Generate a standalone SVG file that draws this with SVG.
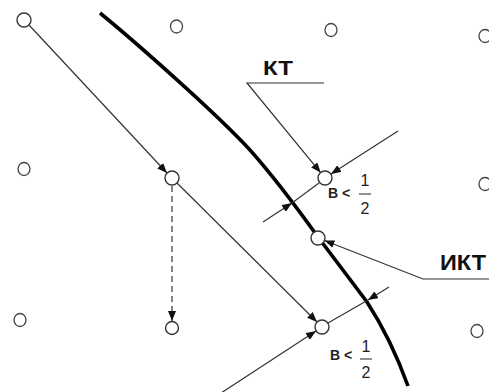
<svg xmlns="http://www.w3.org/2000/svg" width="489" height="392" viewBox="0 0 489 392">
<style>
.n{fill:#fff;stroke:#333;stroke-width:1.4}
.o{fill:none;stroke:#444;stroke-width:1.3}
.c{fill:none;stroke:#333;stroke-width:1.2}
.d{fill:none;stroke:#333;stroke-width:1.2;stroke-dasharray:6,4}
.lb{font-family:"Liberation Sans",Arial,sans-serif;font-weight:bold;fill:#111}
.fr{font-family:"Liberation Sans",Arial,sans-serif;font-size:16px;fill:#222;text-anchor:middle}
.bs{font-family:"Liberation Sans",Arial,sans-serif;font-weight:bold;font-size:14px;fill:#222}
</style>
<defs>
<marker id="ah" markerUnits="userSpaceOnUse" markerWidth="10" markerHeight="8" refX="10" refY="4" orient="auto">
<path d="M0,0 L10,4 L0,8 z" fill="#111"/>
</marker>
</defs>
<rect width="489" height="392" fill="#fff"/>
<path id="boundary" d="M100,13 C133,40 215,112 250,150 C275,178 300,212 318,237 C340,266 358,290 367,302 C380,322 395,350 408,386" fill="none" stroke="#000" stroke-width="3.6"/>
<g id="connectors">
<line class="c" x1="29" y1="25" x2="167" y2="173" marker-end="url(#ah)"/>
<line class="d" x1="172" y1="186" x2="172" y2="321" marker-end="url(#ah)"/>
<line class="c" x1="177" y1="183" x2="317" y2="322" marker-end="url(#ah)"/>
<line class="c" x1="218" y1="395" x2="316" y2="331" marker-end="url(#ah)"/>
<line class="c" x1="328" y1="323" x2="368" y2="300"/>
<line class="c" x1="389" y1="287" x2="368" y2="300" marker-end="url(#ah)"/>
<line class="c" x1="263" y1="222" x2="292" y2="203" marker-end="url(#ah)"/>
<line class="c" x1="292" y1="203" x2="319" y2="183"/>
<line class="c" x1="398" y1="131" x2="331" y2="174" marker-end="url(#ah)"/>
<polyline class="c" points="324,83 247,83 320.6,172.6" marker-end="url(#ah)"/>
<polyline class="c" points="489,279 423,279 324.5,240.5" marker-end="url(#ah)"/>
</g>
<g id="n1"><circle class="n" cx="24" cy="20" r="7"/></g>
<g id="n2"><circle class="n" cx="172" cy="178" r="7"/></g>
<g id="n3"><circle class="n" cx="172" cy="328" r="6.5"/></g>
<g id="n4"><circle class="n" cx="322" cy="327" r="7"/></g>
<g id="n5"><circle class="n" cx="325" cy="178" r="7"/></g>
<g id="n6"><circle class="n" cx="318" cy="238" r="7"/></g>
<g id="p1"><ellipse class="o" cx="176.5" cy="26.5" rx="6" ry="6.5"/></g>
<g id="p2"><ellipse class="o" cx="331" cy="30" rx="6" ry="6.5"/></g>
<g id="p3"><ellipse class="o" cx="485" cy="36" rx="6" ry="6.5"/></g>
<g id="p4"><ellipse class="o" cx="24" cy="169" rx="6" ry="6.5"/></g>
<g id="p5"><ellipse class="o" cx="485" cy="184" rx="6" ry="6.5"/></g>
<g id="p6"><ellipse class="o" cx="20" cy="320" rx="6" ry="6.5"/></g>
<g id="p7"><ellipse class="o" cx="477" cy="331" rx="6" ry="6.5"/></g>
<g id="label-kt"><text class="lb" x="263" y="75" font-size="21" textLength="30" lengthAdjust="spacingAndGlyphs">КТ</text></g>
<g id="label-ikt"><text class="lb" x="440" y="270" font-size="22" textLength="46" lengthAdjust="spacingAndGlyphs">ИКТ</text></g>
<g id="label-b1">
<text class="bs" x="328" y="198">В &lt;</text>
<text class="fr" x="365" y="186">1</text>
<line x1="359" y1="194" x2="371" y2="194" stroke="#222" stroke-width="1"/>
<text class="fr" x="365" y="214">2</text>
</g>
<g id="label-b2">
<text class="bs" x="330" y="360">В &lt;</text>
<text class="fr" x="366" y="352">1</text>
<line x1="360" y1="359" x2="372" y2="359" stroke="#222" stroke-width="1"/>
<text class="fr" x="366" y="378">2</text>
</g>
</svg>
